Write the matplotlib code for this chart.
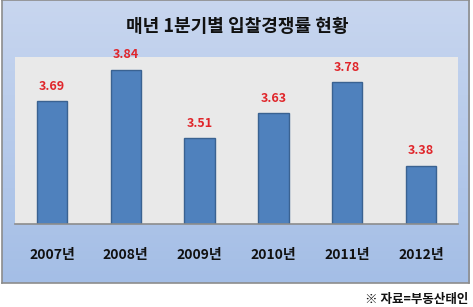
import matplotlib.pyplot as plt
import numpy as np

# === Data ===
years = ["2007년", "2008년", "2009년", "2010년", "2011년", "2012년"]
ratios = [3.69, 3.84, 3.51, 3.63, 3.78, 3.38]
title = "매년 1분기별 입찰경쟁률 현황"
source = "※ 자료=부동산태인"

plt.rcParams['font.family'] = ['Noto Sans CJK KR', 'DejaVu Sans']

W, H = 473, 307
fig = plt.figure(figsize=(W / 100, H / 100), dpi=100)
fig.patch.set_facecolor("white")

# === Framed gradient background ===
bg = fig.add_axes([2 / W, 1 - 283 / H, 467 / W, 283 / H])
top = np.array([0xc8, 0xd6, 0xef]) / 255
bot = np.array([0xa4, 0xbe, 0xe6]) / 255
t = np.linspace(0, 1, 256)[:, None]
grad = (top * (1 - t) + bot * t)[:, None, :]
bg.imshow(grad, aspect="auto", extent=[0, 1, 0, 1])
bg.set_xticks([])
bg.set_yticks([])
for s in bg.spines.values():
    s.set_color("#8c8c8c")
    s.set_linewidth(1.2)

fig.text(237 / W, 1 - 26 / H, title, ha="center", va="center",
         fontsize=13, fontweight="bold", color="#111111")

# === Plot area ===
ax = fig.add_axes([15 / W, 1 - 224 / H, 443 / W, 167 / H])
ax.set_facecolor("#e9e9e9")
x = np.arange(len(years))
ax.bar(x, ratios, width=0.41, bottom=0, color="#4f81bd",
       edgecolor="#3a6291", linewidth=1, zorder=2)
ax.set_xlim(-0.5, len(years) - 0.5)
ax.set_ylim(3.1, 3.9)
for xi, v in zip(x, ratios):
    ax.annotate(f"{v:.2f}", (xi, v), xytext=(0, 6), textcoords="offset points",
                ha="center", va="bottom", fontsize=9, fontweight="bold",
                color="#e0262b")
ax.set_yticks([])
ax.set_xticks(x)
ax.set_xticklabels(years, fontsize=10, fontweight="bold", color="#111111")
ax.tick_params(axis="x", length=0, pad=17)
for side in ["top", "left", "right"]:
    ax.spines[side].set_visible(False)
ax.spines["bottom"].set_color("#8c8c8c")
ax.spines["bottom"].set_linewidth(1.2)

fig.text(468 / W, 1 - 299 / H, source, ha="right", va="center",
         fontsize=9, fontweight="bold", color="#111111")

fig.savefig("out.png", dpi=100)
